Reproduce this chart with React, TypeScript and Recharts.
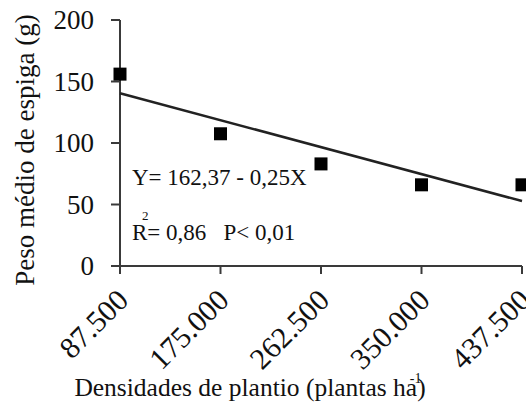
import { ScatterChart, Scatter, XAxis, YAxis } from "recharts";

const densities = [87.5, 175, 262.5, 350, 437.5];
const tickLabels = ["87.500", "175.000", "262.500", "350.000", "437.500"];
const weights = [156, 107.5, 83, 66, 66];
const fitX = [87.5, 437.5];
const fitY = [140.5, 52.8];
const yTicks = [0, 50, 100, 150, 200];

const FONT = "Liberation Serif, DejaVu Serif, serif";
const INK = "#111";
const AXIS = "#3a3a3a";

const points = densities.map((x, i) => ({ x, y: weights[i] }));
const fit = fitX.map((x, i) => ({ x, y: fitY[i] }));

function Square(props: any) {
  const { cx, cy } = props;
  if (cx == null || cy == null) return null;
  return <rect x={cx - 6.5} y={cy - 6.5} width={13} height={13} fill="#000" />;
}

// rotated density labels, anchored at their right end
function XTick(props: any) {
  const { x, y, payload } = props;
  const i = densities.indexOf(payload.value);
  const ax = x + 10;
  const ay = y + 26;
  return (
    <text
      x={ax}
      y={ay}
      textAnchor="end"
      transform={`rotate(-45, ${ax}, ${ay})`}
      fontFamily={FONT}
      fontSize={30}
      fill={INK}
    >
      {tickLabels[i] ?? payload.value}
    </text>
  );
}

function YTick(props: any) {
  const { x, y, payload } = props;
  return (
    <text x={x} y={y} dy={9} textAnchor="end" fontFamily={FONT} fontSize={27} fill={INK}>
      {payload.value}
    </text>
  );
}

export default function App() {
  return (
    <div style={{ position: "absolute", left: 0, top: 0, width: 526, height: 413, background: "#fff", fontFamily: FONT }}>
      <ScatterChart width={526} height={413} margin={{ top: 20, right: 4, left: 0, bottom: 0 }}>
        <XAxis
          type="number"
          dataKey="x"
          domain={[87.5, 437.5]}
          ticks={densities}
          interval={0}
          height={147}
          tickSize={8}
          stroke={AXIS}
          strokeWidth={2}
          tick={<XTick />}
        />
        <YAxis
          type="number"
          dataKey="y"
          domain={[0, 200]}
          ticks={yTicks}
          interval={0}
          width={120}
          tickSize={9}
          tickMargin={17}
          stroke={AXIS}
          strokeWidth={2}
          tick={<YTick />}
        />
        <Scatter
          data={fit}
          line={{ stroke: "#222", strokeWidth: 2.5 }}
          shape={() => <g />}
          isAnimationActive={false}
        />
        <Scatter data={points} shape={<Square />} isAnimationActive={false} />
      </ScatterChart>

      <div
        style={{
          position: "absolute",
          left: 25,
          top: 150,
          transform: "translate(-50%, -50%) rotate(-90deg)",
          whiteSpace: "nowrap",
          fontSize: 27,
          color: INK,
        }}
      >
        Peso médio de espiga (g)
      </div>

      <div style={{ position: "absolute", left: 132, top: 165, whiteSpace: "nowrap", fontSize: 23, color: INK }}>
        Y= 162,37 - 0,25X
      </div>
      <div style={{ position: "absolute", left: 132, top: 220, whiteSpace: "nowrap", fontSize: 23, color: INK }}>
        <span style={{ position: "relative" }}>
          R
          <span style={{ position: "absolute", left: 10, top: -12, fontSize: 13 }}>2</span>
        </span>
        = 0,86&nbsp;&nbsp;&nbsp;P&lt; 0,01
      </div>

      <div
        style={{
          position: "absolute",
          left: 250,
          top: 373,
          transform: "translateX(-50%)",
          whiteSpace: "nowrap",
          fontSize: 25.5,
          color: INK,
        }}
      >
        Densidades de plantio (plantas h
        <span style={{ position: "relative" }}>
          a
          <span style={{ position: "absolute", left: 4, top: -2, fontSize: 14 }}>-1</span>
        </span>
        )
      </div>
    </div>
  );
}
